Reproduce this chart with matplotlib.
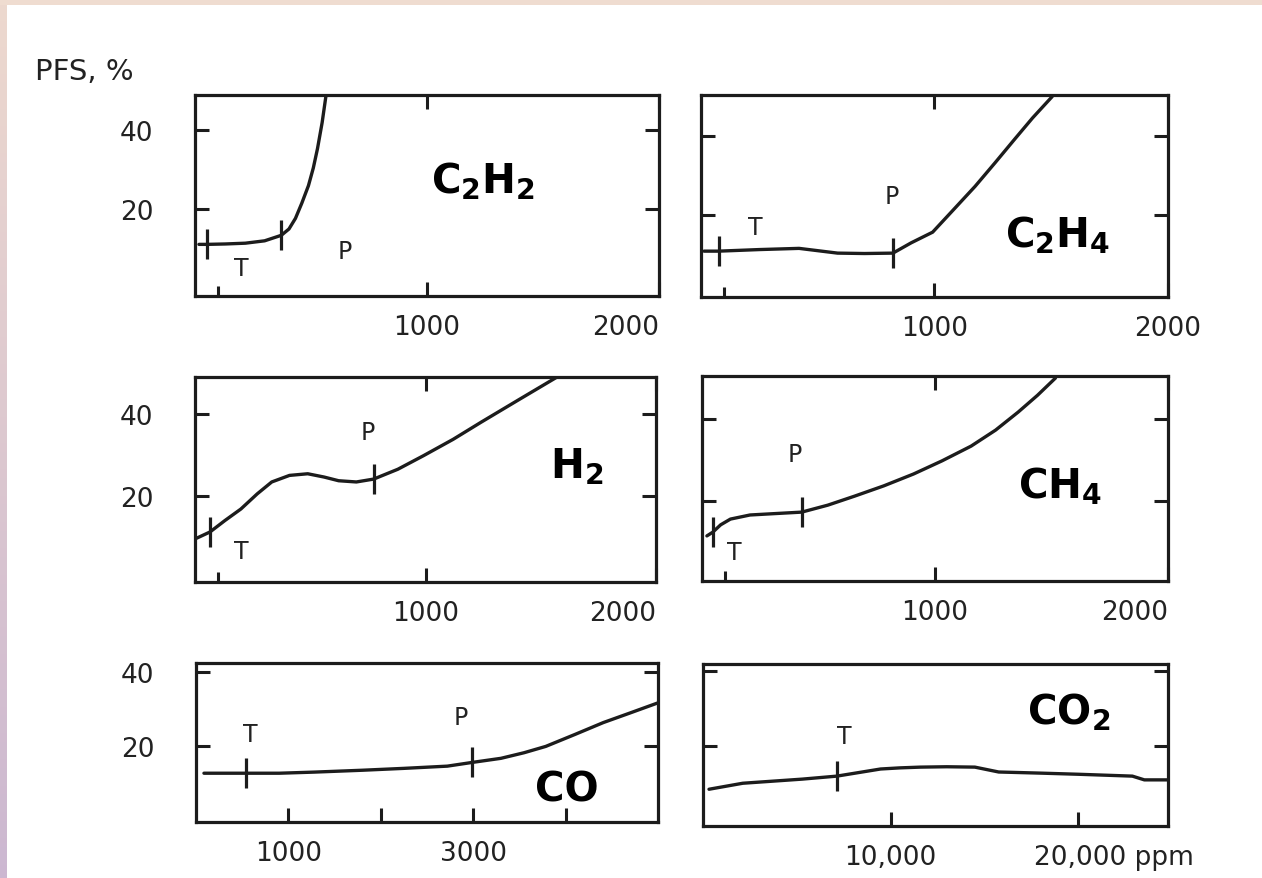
import numpy as np
import matplotlib
matplotlib.use("Agg")
from matplotlib import pyplot as plt
from matplotlib.transforms import ScaledTranslation

plt.rcParams['font.family'] = ['DejaVu Sans']
plt.rcParams['mathtext.default'] = 'regular'

# curves: gas concentration (ppm) vs PFS (%)
c2h2_x = [17, 52, 130, 217, 300, 372, 405, 433, 460, 489, 510, 528, 548, 565]
c2h2_y = [11.1, 11.1, 11.2, 11.4, 12.0, 13.4, 15.0, 17.7, 21.5, 26, 30.5, 35.4, 42, 49]

c2h4_x = [13, 76, 250, 420, 585, 700, 822, 900, 992, 1080, 1174, 1260, 1343, 1420, 1504]
c2h4_y = [10.9, 10.9, 11.3, 11.6, 10.4, 10.3, 10.4, 13.0, 15.7, 21.3, 27.3, 33.3, 39.2, 44.6, 50]

h2_x = [0, 65, 130, 199, 270, 333, 410, 489, 560, 623, 700, 775, 880, 991, 1120, 1242, 1400, 1571]
h2_y = [9.5, 11.2, 14, 16.8, 20.5, 23.4, 25.0, 25.4, 24.6, 23.7, 23.4, 24.1, 26.5, 29.8, 33.8, 38, 43.3, 49]

ch4_x = [21, 46, 80, 122, 206, 300, 428, 540, 655, 780, 908, 1030, 1155, 1260, 1357, 1440, 1517]
ch4_y = [11.5, 12.4, 14.2, 15.6, 16.6, 16.9, 17.3, 19.0, 21.2, 23.7, 26.6, 29.8, 33.4, 37.3, 41.7, 45.8, 50]

co_x = [86, 538, 900, 1280, 1800, 2247, 2720, 2989, 3300, 3550, 3785, 4100, 4408, 4700, 5000]
co_y = [12.8, 12.8, 12.8, 13.1, 13.6, 14.1, 14.7, 15.7, 16.8, 18.3, 20, 23.2, 26.4, 29, 31.7]

co2_x = [320, 2120, 5290, 7140, 9470, 10500, 11590, 13000, 14500, 15770, 18000, 20000, 22900, 23540, 24800]
co2_y = [8.5, 10.1, 11.2, 12, 13.9, 14.2, 14.4, 14.5, 14.4, 13.1, 12.8, 12.5, 12, 11, 11]

# typical (T) and pre-failure (P) values
t_vals = [52, 76, 65, 46, 538, 7140]
p_vals = [372, 822, 775, 428, 2989, None]

gases = [r'C$_2$H$_2$', r'C$_2$H$_4$', r'H$_2$', r'CH$_4$', 'CO', r'CO$_2$']
curves = [(c2h2_x, c2h2_y), (c2h4_x, c2h4_y), (h2_x, h2_y),
          (ch4_x, ch4_y), (co_x, co_y), (co2_x, co2_y)]

W, H = 1262, 879
fig = plt.figure(figsize=(W / 100, H / 100), dpi=100)
fig.patch.set_facecolor('white')

# scanned page border: peach band on top, peach->lilac band on the left
bg = fig.add_axes([0, 0, 7 / W, 1])
grad = np.linspace(0, 1, 200)[:, None]
top_c = np.array([0.93, 0.85, 0.81])
bot_c = np.array([0.80, 0.72, 0.82])
bg.imshow(top_c * (1 - grad[..., None]) + bot_c * grad[..., None], aspect='auto')
bg.axis('off')
band = fig.add_axes([0, 1 - 6 / H, 1, 6 / H])
band.set_facecolor('#efdcd0')
band.set_xticks([])
band.set_yticks([])
for s in band.spines.values():
    s.set_visible(False)

# pixel boxes (left, top, right, bottom) of each panel
boxes = [(195, 96, 659, 297), (701, 96, 1168, 298),
         (195, 378, 656, 583), (702, 377, 1168, 582),
         (196, 664, 658, 823), (703, 665, 1168, 827)]
ylims = [(-2, 49), (-0.7, 50.4), (-1, 49), (0.5, 50.5), (-0.3, 42.4), (-1.3, 41.9)]
xlims = [(0, 2000), (0, 2000), (0, 2000), (0, 2000), (0, 5000), (0, 24800)]

label_pos = [
    dict(T=(199, 5.1), P=(645, 9.4), G=(1242, 27.3)),
    dict(T=(233, 17), P=(818, 24.8), G=(1525, 15.2)),
    dict(T=(199, 6.6), P=(749, 35.6), G=(1654, 27.3)),
    dict(T=(139, 7.6), P=(399, 31.5), G=(1538, 23.7)),
    dict(T=(591, 23.2), P=(2870, 28), G=(4015, 8.5)),
    dict(T=(7560, 22.7), P=None, G=(19520, 29.3)),
]

ink = '#1c1c1c'
txt = '#222222'
fs = 19

for i, (l, t, r, b) in enumerate(boxes):
    ax = fig.add_axes([l / W, 1 - b / H, (r - l) / W, (b - t) / H])
    x, y = curves[i]
    ax.plot(x, y, color=ink, lw=2.4, solid_capstyle='round', solid_joinstyle='round')
    for v in (t_vals[i], p_vals[i]):
        if v is None:
            continue
        ax.plot([v], [np.interp(v, x, y)], marker='|', ms=21, mew=2.3, color=ink)
    pos = label_pos[i]
    ax.text(*pos['T'], 'T', fontsize=17, ha='center', va='center', color=txt)
    if pos['P'] is not None:
        ax.text(*pos['P'], 'P', fontsize=17, ha='center', va='center', color=txt)
    ax.text(*pos['G'], gases[i], fontsize=29, fontweight='bold',
            ha='center', va='center', color='black')

    ax.set_xlim(*xlims[i])
    ax.set_ylim(*ylims[i])
    ax.set_yticks([20, 40])
    for s in ax.spines.values():
        s.set_linewidth(2.3)
        s.set_color(ink)
    ax.tick_params(which='both', direction='in', right=True, width=2.2, color=ink,
                   labelsize=fs, labelcolor=txt)
    ax.tick_params(which='major', length=10)
    ax.tick_params(axis='y', pad=30)
    ax.tick_params(axis='x', pad=13)
    if i % 2 == 1:
        ax.set_yticklabels([])

    if i < 4:
        ax.tick_params(which='major', top=True)
        ax.set_xticks([1000, 2000])
        ax.set_xticklabels(['1000', '2000'])
        ax.set_xticks([100], minor=True)
        ax.tick_params(which='minor', length=7, top=False, right=False)
        ax.get_xticklabels()[1].set_horizontalalignment('center' if i == 1 else 'right')
    elif i == 4:
        ax.set_xticks([1000, 2000, 3000, 4000])
        ax.set_xticklabels(['1000', '', '3000', ''])
        ax.tick_params(which='major', top=False)
    else:
        ax.set_xticks([10000, 20000])
        ax.set_xticklabels(['10,000', '20,000 ppm'])
        ax.tick_params(which='major', top=False)
        lab = ax.get_xticklabels()[1]
        lab.set_transform(lab.get_transform() + ScaledTranslation(0.36, 0, fig.dpi_scale_trans))

fig.text(35 / W, 1 - 72 / H, 'PFS, %', fontsize=21, ha='left', va='center', color=txt)

plt.savefig('out.png', dpi=100)
